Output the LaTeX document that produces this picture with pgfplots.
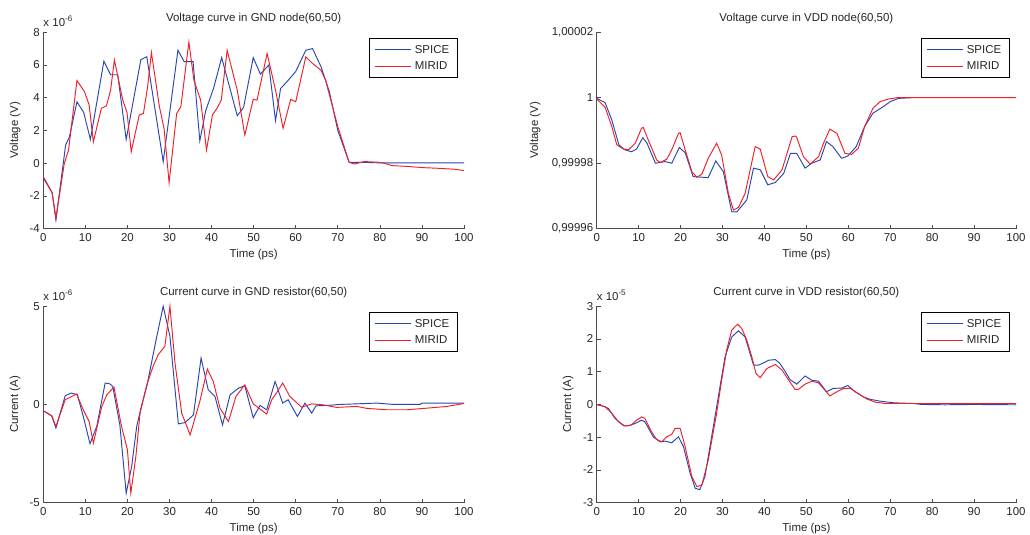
\documentclass[border=0pt]{standalone}
\usepackage{pgfplots}
\pgfplotsset{compat=1.18}
\usepackage{fontspec}
\setmainfont{Liberation Sans}
\definecolor{spice}{RGB}{40,70,175}
\definecolor{mirid}{RGB}{240,30,40}
\newcommand{\fs}{\fontsize{11.5}{13.5}\selectfont}
\pgfplotsset{
 mystyle/.style={
  scale only axis, height=196.5bp,
  xmin=0, xmax=100, xtick={0,10,...,100},
  axis lines=left,
  axis line style={-, black!70, line width=0.6pt},
  major tick style={black!70, line width=0.6pt}, major tick length=4bp,
  tick align=inside,
  font=\fs,
  tick label style={font=\fs, text=black!85},
  xticklabel style={yshift=-1bp},
  /pgf/number format/assume math mode=true,
  scaled ticks=false,
  clip=false,
  xlabel={Time (ps)},
  xlabel style={at={(axis description cs:0.5,-0.132)}, anchor=center, font=\fs, text=black!85},
  ylabel style={anchor=center, font=\fs, text=black!85},
  title style={at={(axis description cs:0.5,1)}, anchor=base, yshift=4.5bp, inner sep=0pt, font=\fs, text=black!85},
  legend style={at={(axis description cs:1,1)}, anchor=north east, xshift=-6bp, yshift=-6bp,
    draw=black, line width=0.6pt, font=\fs, inner xsep=5bp, inner ysep=3.2bp,
    nodes={inner xsep=3.5bp, inner ysep=3.4bp, text=black!85}},
  legend cell align=left,
  every axis plot/.append style={line width=0.95pt},
 },
 sp/.style={color=spice, draw=spice,
   legend image code/.code={\draw[draw=spice, line width=0.95pt] (0bp,0bp) -- (36bp,0bp);}},
 mi/.style={color=mirid, draw=mirid,
   legend image code/.code={\draw[draw=mirid, line width=0.95pt] (0bp,0bp) -- (36bp,0bp);}},
}
\begin{document}
\begin{tikzpicture}
\path[use as bounding box] (0bp,0bp) rectangle (1030bp,-535bp);

% ---------------- Plot 1: Voltage GND ----------------
\begin{axis}[mystyle, at={(43.3bp,-228.7bp)}, anchor=south west, width=420.7bp,
  ymin=-4, ymax=8, ytick={-4,-2,...,8},
  title={Voltage curve in GND node(60,50)},
  ylabel={Voltage (V)}, ylabel style={at={(axis description cs:-0.067,0.5)}}]
\addplot[sp] table {
0 -0.9
2.1 -1.8
3.0 -3.46
5.3 1.1
6.2 1.6
8.0 3.75
9.6 3.1
11.2 1.45
14.4 6.23
16.0 5.4
17.7 5.4
19.7 1.45
23.2 6.33
24.6 6.5
28.5 0.1
32.0 6.9
33.5 6.2
35.6 6.2
37.2 1.37
38.6 3.2
40.5 4.6
42.4 6.45
46.1 2.9
47.6 3.4
49.9 6.45
51.6 5.44
53.6 6.0
55.2 2.6
56.4 4.56
58.0 5.0
60.0 5.6
62.4 6.9
64.0 7.0
66.0 5.9
68.0 4.36
70.0 2.0
72.7 0.05
76 0.05
80 0.02
100 0.02
};
\addplot[mi] table {
0 -0.82
2.1 -1.8
3.0 -3.36
5.0 0.0
6.0 0.8
8.0 5.05
9.8 4.36
10.9 3.55
11.9 1.3
13.8 3.35
15.0 3.5
16.0 4.46
16.9 6.3
18.9 3.85
19.9 3.1
20.9 0.7
22.8 2.94
23.8 3.04
24.8 4.67
25.7 6.76
27.6 3.45
28.7 2.13
29.9 -1.19
31.7 3.04
32.7 3.45
34.6 7.4
35.8 5.07
37.4 3.85
38.8 0.8
40.2 2.94
41.4 3.4
42.3 3.85
43.7 6.9
46.1 4.46
47.9 1.72
49.9 3.9
50.8 3.85
53.2 6.7
55.2 4.46
57.0 2.13
58.8 3.9
60.0 3.75
62.4 6.5
64.0 6.09
66.0 5.68
67.1 5.07
70.0 2.23
72.7 0.05
73.9 -0.05
76.3 0.1
79.5 0.06
81.0 0.0
83.0 -0.15
86.7 -0.2
90.2 -0.27
93.8 -0.31
97.8 -0.37
100 -0.45
};
\legend{SPICE, MIRID}
\node[anchor=base west, inner sep=0pt, font=\fs, text=black!85] at ([yshift=6bp]rel axis cs:0,1) {x 10\textsuperscript{-6}};
\end{axis}

% ---------------- Plot 2: Voltage VDD ----------------
\begin{axis}[mystyle, at={(596.7bp,-228.7bp)}, anchor=south west, width=419.3bp,
  ymin=-40, ymax=20, ytick={-40,-20,0,20},
  yticklabels={{0,99996},{0,99998},{1},{1,00002}},
  title={Voltage curve in VDD node(60,50)},
  ylabel={Voltage (V)}, ylabel style={at={(axis description cs:-0.147,0.5)}}]
% values: (V - 1) x 1e6
\addplot[sp] table {
0 -0.2
2.0 -1.5
3.6 -6.8
5.3 -14.4
6.7 -15.9
8.3 -16.5
9.5 -15.7
11.0 -12.2
12.0 -13.9
14.0 -20
16.3 -19.5
17.9 -20
19.7 -15.2
21.1 -16.8
23.0 -24.1
26.6 -24.4
28.4 -19.3
30.2 -22.6
32.2 -34.8
33.4 -34.9
35.8 -31.2
37.4 -21.5
39.0 -22
40.8 -26.6
42.6 -25.9
44.6 -23.1
46.2 -17
47.7 -17
49.7 -21.5
51.3 -20
53.3 -19
54.8 -13.4
56.3 -14.9
58.4 -18.5
59.9 -17.8
61.9 -14.9
63.9 -8.8
65.9 -4.7
68.4 -2.7
70.0 -1.2
72.0 -0.2
75.1 0
};
\addplot[mi] table {
0 -0.4
2.0 -2.9
3.6 -8.8
4.8 -14.4
6.4 -15.7
7.6 -15.9
9.2 -13.9
10.7 -9.3
11.1 -9.1
12.3 -12.9
14.3 -19
15.1 -19.8
16.7 -18.8
17.9 -15.9
19.5 -10.9
19.9 -10.7
21.1 -15.9
22.7 -22.6
23.9 -24.3
25.1 -23.3
26.6 -18.5
28.6 -13.9
29.8 -17.5
31.4 -29.2
32.6 -34.3
33.8 -33.5
35.4 -29.2
37.8 -14.9
39.0 -15.7
40.8 -24.1
42.2 -25.1
44.2 -22
46.6 -11.9
47.4 -11.7
47.7 -12.1
49.3 -18
50.9 -20.3
52.9 -18
54.1 -13.9
55.6 -9.6
57.3 -10.9
59.2 -17
60.8 -17.3
62.4 -15.4
63.9 -8.8
65.9 -3.2
67.6 -1.2
69.6 -0.4
71.6 0
100 0
};
\legend{SPICE, MIRID}
\end{axis}

% ---------------- Plot 3: Current GND ----------------
\begin{axis}[mystyle, at={(43.3bp,-502.7bp)}, anchor=south west, width=420.7bp,
  ymin=-5, ymax=5, ytick={-5,0,5},
  title={Current curve in GND resistor(60,50)},
  ylabel={Current (A)}, ylabel style={at={(axis description cs:-0.067,0.5)}}]
\addplot[sp] table {
0 -0.32
2.0 -0.58
3.0 -1.2
5.2 0.44
6.6 0.58
8.1 0.5
9.5 -0.61
11.1 -2.0
12.7 -1.12
14.7 1.09
15.8 1.05
16.5 0.92
18.2 -1.04
19.7 -4.52
21.0 -3.16
22.2 -1.12
23.4 -0.02
24.6 0.92
26.9 3.38
28.5 5.0
30.1 3.47
32.1 -0.99
33.7 -0.92
35.7 -0.53
37.5 2.36
39.2 0.75
40.8 0.41
42.6 -1.04
44.4 0.49
46.4 0.83
47.9 0.95
49.9 -0.68
51.5 -0.05
53.1 -0.27
55.1 1.17
56.9 0.07
58.2 0.24
60.4 -0.61
62.2 0.07
63.8 -0.44
64.8 -0.07
67.4 -0.05
70.5 0
79.3 0.07
83.2 0
89.6 0
90.0 0.07
100 0.07
};
\addplot[mi] table {
0 -0.32
2.0 -0.58
3.0 -1.12
5.2 0.24
7.9 0.53
9.5 -0.27
10.9 -0.87
11.9 -1.97
13.9 -0.1
15.1 0.49
16.8 0.88
18.6 -1.12
20.0 -2.31
20.8 -4.52
22.0 -2.65
23.0 -0.44
24.6 1.0
26.1 1.94
27.3 2.53
28.9 2.96
30.1 5.0
31.3 2.11
32.9 -0.44
34.9 -1.55
37.2 0.15
39.0 1.8
40.4 1.17
42.0 -0.19
44.0 -0.87
45.8 0.41
47.9 1.0
49.9 0.03
53.1 -0.49
54.3 0.24
55.4 0.58
56.9 1.09
58.6 0.41
61.4 -0.14
63.8 0.03
66.6 -0.02
69.7 -0.15
74.5 -0.1
76.9 -0.2
81.6 -0.27
86.4 -0.27
91.1 -0.19
96.0 -0.1
100 0.05
};
\legend{SPICE, MIRID}
\node[anchor=base west, inner sep=0pt, font=\fs, text=black!85] at ([yshift=6bp]rel axis cs:0,1) {x 10\textsuperscript{-6}};
\end{axis}

% ---------------- Plot 4: Current VDD ----------------
\begin{axis}[mystyle, at={(596.7bp,-502.7bp)}, anchor=south west, width=419.3bp,
  ymin=-3, ymax=3, ytick={-3,-2,...,3},
  title={Current curve in VDD resistor(60,50)},
  ylabel={Current (A)}, ylabel style={at={(axis description cs:-0.068,0.5)}}]
\addplot[sp] table {
0 0
2.0 -0.07
2.8 -0.12
4.4 -0.43
6.4 -0.65
7.6 -0.65
9.2 -0.58
10.7 -0.48
11.5 -0.53
13.5 -0.99
15.1 -1.14
16.3 -1.12
17.9 -1.17
19.5 -0.99
20.7 -1.29
22.3 -2.11
23.5 -2.56
24.6 -2.6
25.8 -2.21
27.4 -0.99
29.0 0.23
30.6 1.45
32.2 2.06
33.8 2.25
35.4 2.06
37.4 1.2
38.6 1.2
39.8 1.27
41.0 1.35
42.6 1.37
43.7 1.25
45.0 1.0
46.1 0.76
47.7 0.62
49.7 0.87
51.3 0.74
52.9 0.71
54.8 0.39
56.4 0.49
58.4 0.5
59.9 0.58
61.6 0.39
63.6 0.23
65.1 0.16
67.6 0.1
70.8 0.05
75.5 0.03
77.5 0
83.0 -0.01
89.8 0
100 -0.01
};
\addplot[mi] table {
0 0
2.0 -0.07
3.6 -0.27
5.2 -0.53
6.8 -0.66
8.2 -0.63
9.5 -0.48
10.7 -0.38
11.5 -0.43
13.1 -0.84
14.3 -1.07
15.5 -1.14
16.7 -0.99
17.9 -0.91
18.7 -0.73
19.9 -0.73
21.1 -1.29
22.7 -2.21
23.9 -2.51
25.1 -2.46
26.6 -1.7
28.6 -0.27
29.8 0.74
31.0 1.66
32.2 2.27
33.6 2.45
34.6 2.32
35.8 1.96
37.0 1.45
38.0 0.94
39.0 0.82
40.6 1.1
42.6 1.22
44.2 1.05
45.8 0.74
47.3 0.46
48.1 0.46
49.7 0.62
51.3 0.71
52.9 0.66
54.4 0.44
55.6 0.26
57.3 0.39
58.9 0.49
60.5 0.49
62.4 0.33
64.4 0.17
66.4 0.07
68.8 0.03
100 0.03
};
\legend{SPICE, MIRID}
\node[anchor=base west, inner sep=0pt, font=\fs, text=black!85] at ([yshift=6bp]rel axis cs:0,1) {x 10\textsuperscript{-5}};
\end{axis}
\end{tikzpicture}
\end{document}
